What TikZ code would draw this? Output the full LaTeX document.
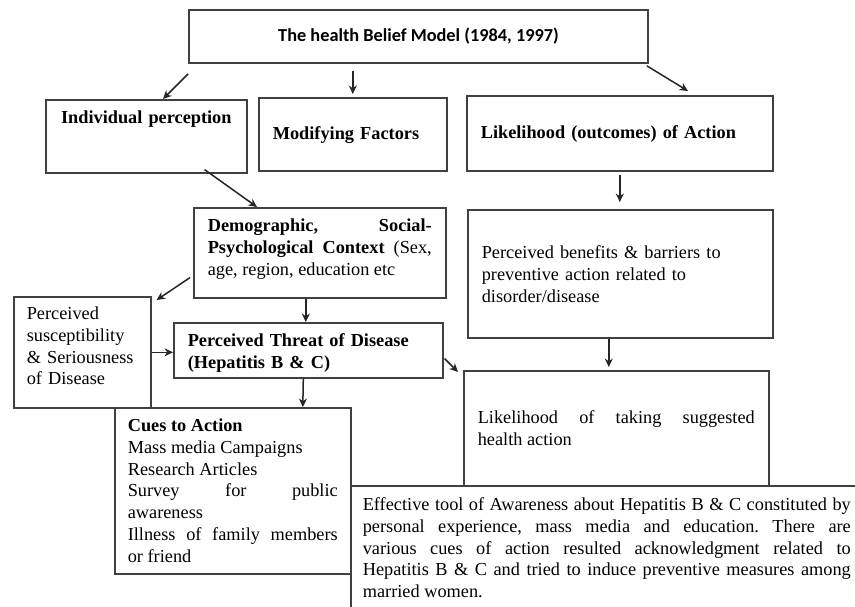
\documentclass[tikz,border=0pt]{standalone}
\usepackage{fontspec}
\setmainfont{Liberation Serif}
\newfontfamily\titlefont{Carlito}
\usetikzlibrary{arrows.meta,calc}
\hyphenpenalty=10000
\frenchspacing
\begin{document}
\begin{tikzpicture}[x=1pt,y=-1pt,line cap=butt,line join=miter,>={Stealth[length=8.5pt,width=8pt]}]
	\tikzset{box/.style={draw=black!75,line width=1.6pt,fill=white,anchor=north west,inner ysep=0pt,
			font=\fontsize{18.3}{21.7}\selectfont},
		arr/.style={->,line width=1.5pt,black!85}
	}
	\useasboundingbox (0,0) rectangle (855,606);
	\clip (0,0) rectangle (855,606);
	\node[box,anchor=center,minimum width=459pt,minimum height=53pt,
		font=\titlefont\bfseries\fontsize{18.3}{21.7}\selectfont] (title) at (418.5,36.5) {The health Belief Model (1984, 1997)};
	\node[box,text width=189pt,inner xsep=6pt,align=center,text height=24pt,text depth=49pt] (ind) at (45,99) {\bfseries Individual perception};
	\node[box,text width=160pt,inner xsep=14pt,align=left,text height=42pt,text depth=31pt] (mod) at (258,97) {\bfseries Modifying Factors};
	\node[box,text width=278pt,inner xsep=14pt,align=left,text height=43pt,text depth=32pt] (lik) at (466,95) {\bfseries Likelihood (outcomes) of Action};
	\node[box,text width=277pt,inner xsep=14pt,align=left,text height=49pt,text depth=79pt] (ben) at (467,209)
		{Perceived benefits \& barriers to\\preventive action related to\\disorder/disease};
	\node[box,text width=224pt,inner xsep=14pt,align=justify,text height=24pt,text depth=66pt] (demo) at (193,207)
		{\textbf{Demographic, Social-}\linebreak\textbf{Psychological Context} (Sex,\linebreak age, region, education etc};
	\node[box,text width=111pt,inner xsep=13pt,align=left,text height=23pt,text depth=88pt] (sus) at (13,296)
		{Perceived\\susceptibility\\\& Seriousness\\of Disease};
	\node[box,text width=241pt,inner xsep=14pt,align=left,text height=24pt,text depth=31pt] (threat) at (173,322)
		{\bfseries Perceived Threat of Disease\\(Hepatitis B \& C)};
	\node[box,text width=210pt,inner xsep=13pt,align=justify,text height=24pt,text depth=142pt] (cues) at (114,407)
		{\textbf{Cues to Action}\\Mass media Campaigns\\Research Articles\\Survey for public\linebreak awareness\\Illness of family members\linebreak or friend};
	\node[box,text width=277pt,inner xsep=14pt,align=justify,text height=53pt,text depth=90pt] (take) at (463,370)
		{Likelihood of taking suggested\linebreak health action};
	% arrows
	\draw[arr] ($(title.south west)+(0,10)$) -- ($(ind.north west)+(118,0)$);
	\draw[arr] ($(title.south -| mod.north)+(0,7)$) -- ($(mod.north)+(0,-3)$);
	\draw[arr] ($(title.south east)+(-2,2)$) -- ($(lik.north west)+(222,-4)$);
	\draw[arr] ($(ind.south east)+(-43,-4)$) -- ($(demo.north west)+(64,0)$);
	\draw[arr] ($(demo.south west)+(-3,-21)$) -- ($(sus.north east)+(5,4)$);
	\draw[arr] ($(demo.south)+(-14,0)$) -- ($(threat.north)+(-2.5,0)$);
	\draw[arr] (sus.east) -- (sus.east -| threat.west);
	\draw[arr] ($(threat.south)+(-5,0)$) -- ($(cues.north)+(70,0)$);
	\draw[arr] ($(threat.south east)+(1,-20)$) -- ($(take.north west)+(-5,2)$);
	\draw[arr] ($(lik.south)+(0,3)$) -- ($(ben.north)+(-0.5,-7)$);
	\draw[arr] ($(ben.south)+(-11.5,0)$) -- ($(take.north)+(-7.5,-3)$);
	\node[box,text width=488pt,inner xsep=12pt,align=justify,text height=25pt,text depth=130pt] (eff) at (350,485)
		{Effective tool of Awareness about Hepatitis B \& C constituted by\linebreak personal experience, mass media and education. There are\linebreak various cues of action resulted acknowledgment related to\linebreak Hepatitis B \& C and tried to induce preventive measures among\linebreak married women.};
\end{tikzpicture}
\end{document}
